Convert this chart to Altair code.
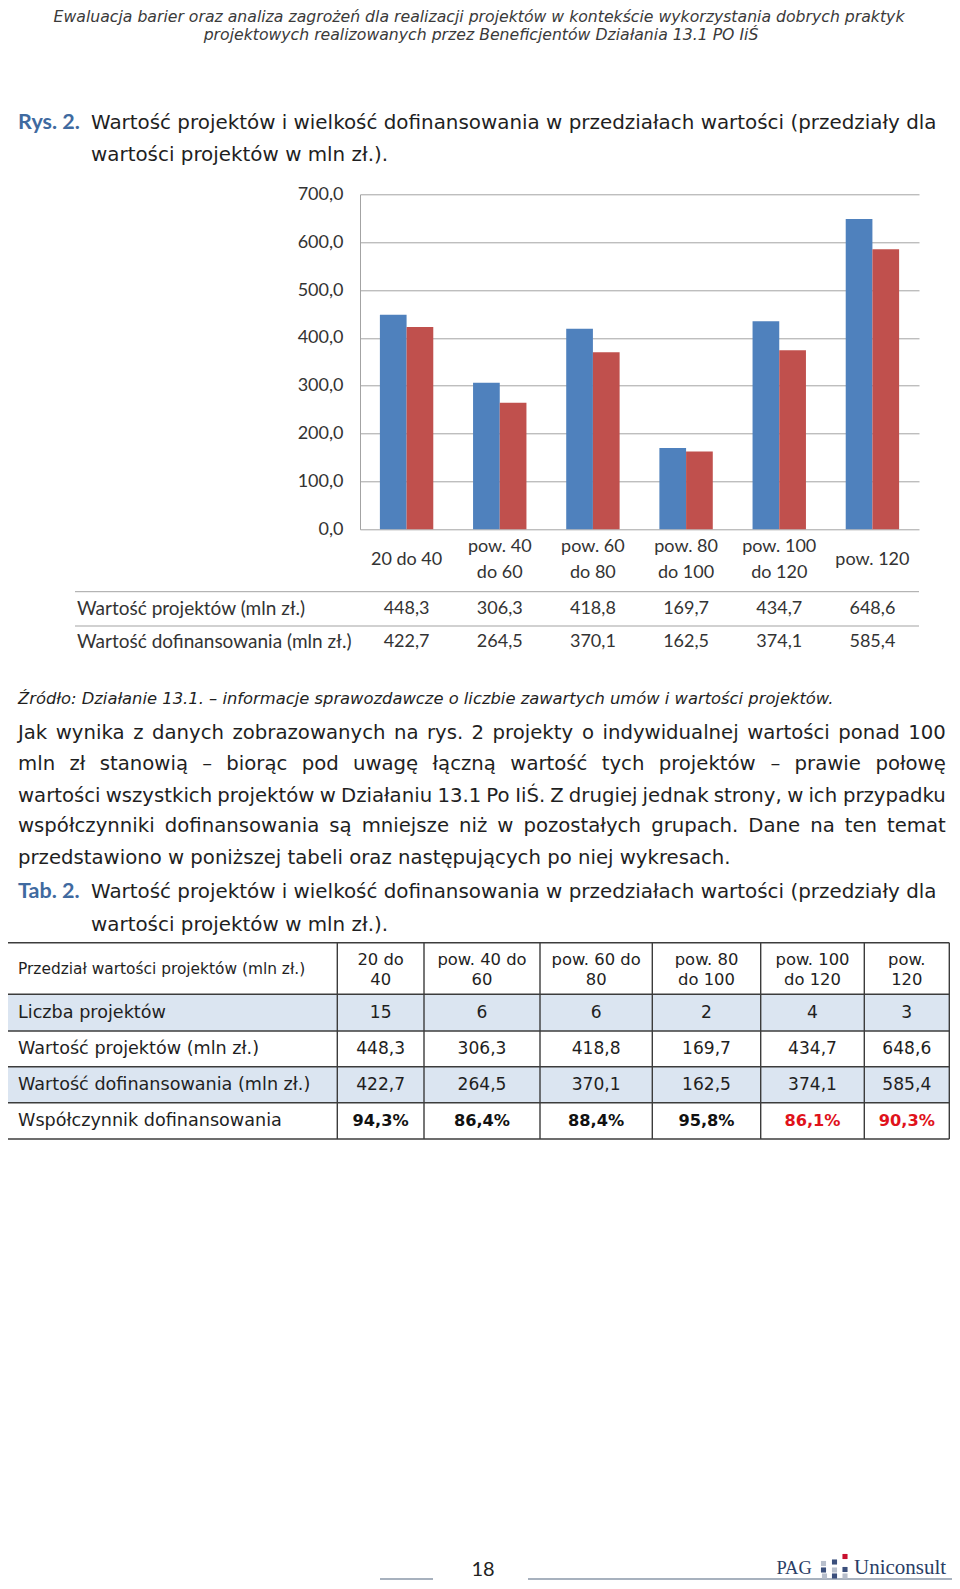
import altair as alt
import pandas as pd

# ---------------- data ----------------
categories = ["20 do 40", "pow. 40 do 60", "pow. 60 do 80", "pow. 80 do 100",
              "pow. 100 do 120", "pow. 120"]
chart_cat_labels = ["20 do 40", "pow. 40\ndo 60", "pow. 60\ndo 80", "pow. 80\ndo 100",
                    "pow. 100\ndo 120", "pow. 120"]
series = ["Wartość projektów (mln zł.)", "Wartość dofinansowania (mln zł.)"]
wartosc_projektow = [448.3, 306.3, 418.8, 169.7, 434.7, 648.6]
wartosc_dofinansowania = [422.7, 264.5, 370.1, 162.5, 374.1, 585.4]
liczba_projektow = [15, 6, 6, 2, 4, 3]
wspolczynnik = ["94,3%", "86,4%", "88,4%", "95,8%", "86,1%", "90,3%"]
wspolczynnik_red = [False, False, False, False, True, True]
table_col_headers = ["20 do\n40", "pow. 40 do\n60", "pow. 60 do\n80", "pow. 80\ndo 100",
                     "pow. 100\ndo 120", "pow.\n120"]
table_row_labels = ["Liczba projektów", "Wartość projektów (mln zł.)",
                    "Wartość dofinansowania (mln zł.)", "Współczynnik dofinansowania"]
y_ticks = [0, 100, 200, 300, 400, 500, 600, 700]

header_lines = [
    "Ewaluacja barier oraz analiza zagrożeń dla realizacji projektów w kontekście wykorzystania dobrych praktyk",
    "projektowych realizowanych przez Beneficjentów Działania 13.1 PO IiŚ",
]
fig_label = "Rys. 2."
tab_label = "Tab. 2."
caption_lines = [
    "Wartość projektów i wielkość dofinansowania w przedziałach wartości (przedziały dla",
    "wartości projektów w mln zł.).",
]
source_line = "Źródło: Działanie 13.1. – informacje sprawozdawcze o liczbie zawartych umów i wartości projektów."
paragraph_lines = [
    "Jak wynika z danych zobrazowanych na rys. 2 projekty o indywidualnej wartości ponad 100",
    "mln zł stanowią – biorąc pod uwagę łączną wartość tych projektów – prawie połowę",
    "wartości wszystkich projektów w Działaniu 13.1 Po IiŚ. Z drugiej jednak strony, w ich przypadku",
    "współczynniki dofinansowania są mniejsze niż w pozostałych grupach. Dane na ten temat",
    "przedstawiono w poniższej tabeli oraz następujących po niej wykresach.",
]
paragraph_justified = [True, True, True, True, False]
table_header_label = "Przedział wartości projektów (mln zł.)"
page_number = "18"
logo_words = ["PAG", "Uniconsult"]


def pl(v):
    return f"{v:.1f}".replace(".", ",")


# ---------------- layout (page pixels) ----------------
PLOT_L, PLOT_T = 360.0, 194.3
PLOT_W, PLOT_H = 559.0, 335.0
PAGE_W, PAGE_H = 944, 1573


def X(px):
    return px - PLOT_L


def Y(py):
    return py - PLOT_T


FONT_BODY = "DejaVu Sans"
FONT_CHART = "Lato"
BODY_SIZE = 19.7

# approximate DejaVu Sans advance widths (units per 2048 em), used only to spread
# justified words along a line
_W = {' ': 651, ',': 651, '.': 651, '–': 1024, '(': 799, ')': 799, '-': 739,
      'a': 1255, 'b': 1300, 'c': 1126, 'd': 1300, 'e': 1260, 'f': 721, 'g': 1300,
      'h': 1298, 'i': 569, 'j': 569, 'k': 1186, 'l': 569, 'm': 1995, 'n': 1298,
      'o': 1253, 'p': 1300, 'q': 1300, 'r': 842, 's': 1067, 't': 803, 'u': 1298,
      'v': 1212, 'w': 1675, 'x': 1212, 'y': 1212, 'z': 1075,
      'ą': 1255, 'ę': 1260, 'ć': 1126, 'ś': 1067, 'ó': 1253, 'ż': 1075, 'ź': 1075,
      'ń': 1298, 'ł': 600,
      'D': 1577, 'I': 604, 'J': 604, 'P': 1235, 'Z': 1403, 'Ś': 1300}


def tw(s, size):
    return sum(_W.get(ch, 1303 if ch.isdigit() else 1250) for ch in s) / 2048.0 * size


def text_layer(items, **mk):
    df = pd.DataFrame({"px": [X(a) for a, b, t in items],
                       "py": [Y(b) for a, b, t in items],
                       "t": [t for a, b, t in items]})
    return alt.Chart(df).mark_text(baseline="middle", lineBreak="\n", **mk).encode(
        x=alt.X("px:Q", scale=None, axis=None),
        y=alt.Y("py:Q", scale=None, axis=None),
        text="t:N",
    )


def rule_layer(segs, color, width):
    df = pd.DataFrame({"x1": [X(s[0]) for s in segs], "y1": [Y(s[1]) for s in segs],
                       "x2": [X(s[2]) for s in segs], "y2": [Y(s[3]) for s in segs]})
    return alt.Chart(df).mark_rule(color=color, strokeWidth=width).encode(
        x=alt.X("x1:Q", scale=None, axis=None), y=alt.Y("y1:Q", scale=None, axis=None),
        x2="x2:Q", y2="y2:Q")


# ---------------- bar chart ----------------
bar_df = pd.DataFrame({
    "cat": categories * 2,
    "series": [series[0]] * 6 + [series[1]] * 6,
    "value": wartosc_projektow + wartosc_dofinansowania,
})

GRID = "#a3a3a3"
CHART_TXT = "#333333"

bars = alt.Chart(bar_df).mark_bar().encode(
    x=alt.X("cat:N", sort=categories,
            scale=alt.Scale(paddingInner=0, paddingOuter=0),
            axis=alt.Axis(labels=False, title=None, ticks=True, tickSize=122.5,
                          tickColor=GRID, bandPosition=0, domain=True,
                          domainColor=GRID, grid=False)),
    xOffset=alt.XOffset("series:N", sort=series,
                        scale=alt.Scale(paddingInner=0, paddingOuter=0.745)),
    y=alt.Y("value:Q", scale=alt.Scale(domain=[0, 700], nice=False),
            axis=alt.Axis(values=y_ticks, title=None, ticks=False, labelPadding=17,
                          labelExpr="replace(format(datum.value, '.1f'), '.', ',')",
                          labelFont=FONT_CHART, labelFontSize=18, labelColor=CHART_TXT,
                          grid=True, gridColor=GRID, domain=True, domainColor=GRID)),
    color=alt.Color("series:N", sort=series,
                    scale=alt.Scale(domain=series, range=["#4F81BD", "#C0504D"]),
                    legend=None),
)

cat_df = pd.DataFrame({
    "cat": categories,
    "lab": chart_cat_labels,
    "two": ["\n" in s for s in chart_cat_labels],
    "v1": [pl(v) for v in wartosc_projektow],
    "v2": [pl(v) for v in wartosc_dofinansowania],
})


def cat_text(df, field, ypage, size=18):
    return alt.Chart(df).mark_text(font=FONT_CHART, fontSize=size, color=CHART_TXT,
                                   baseline="middle", lineBreak="\n", lineHeight=25.3).encode(
        x=alt.X("cat:N", sort=categories, axis=None),
        y=alt.value(Y(ypage)),
        text=f"{field}:N",
    )


cat_one = cat_text(cat_df[~cat_df["two"]], "lab", 559.6)
cat_two = cat_text(cat_df[cat_df["two"]], "lab", 547.4)
row1_layer = cat_text(cat_df, "v1", 608.5)
row2_layer = cat_text(cat_df, "v2", 641.5)

chart_table_rows = text_layer([(77, 608.5, series[0]), (77, 641.5, series[1])],
                              font=FONT_CHART, fontSize=19, color=CHART_TXT, align="left")
chart_table_lines = rule_layer([(75, 591.7, PLOT_L + PLOT_W, 591.7),
                                (75, 626.0, PLOT_L + PLOT_W, 626.0)], GRID, 1)

# ---------------- page texts ----------------
header_layer = text_layer([(479, 17.0, header_lines[0]), (481, 34.5, header_lines[1])],
                          font=FONT_BODY, fontStyle="italic", fontSize=15.7,
                          color="#3a3a3a", align="center")

label_layer = text_layer([(18, 123, fig_label), (18, 892, tab_label)],
                         font=FONT_CHART, fontWeight="bold", fontSize=21.5,
                         color="#3F6AA0", align="left")
caption_layer = text_layer([(91, 123, caption_lines[0]), (91, 155, caption_lines[1]),
                            (91, 892, caption_lines[0]), (91, 924.5, caption_lines[1])],
                           font=FONT_BODY, fontSize=19.9, color="#1f1f1f", align="left")

source_layer = text_layer([(18, 698.5, source_line)], font=FONT_BODY, fontStyle="italic",
                          fontSize=16.35, color="#1f1f1f", align="left")

# paragraph: justified lines are laid out word by word between the margins
para_y = [733.0, 764.4, 795.8, 826.2, 857.6]
PARA_L, PARA_R = 18.0, 945.8
para_left, para_right = [], []
for y, line, just in zip(para_y, paragraph_lines, paragraph_justified):
    if not just:
        para_left.append((PARA_L, y, line))
        continue
    words = line.split(" ")
    widths = [tw(w, BODY_SIZE) for w in words]
    gap = (PARA_R - PARA_L - sum(widths)) / (len(words) - 1)
    x = PARA_L
    for w, wd in zip(words[:-1], widths[:-1]):
        para_left.append((x, y, w))
        x += wd + gap
    para_right.append((PARA_R, y, words[-1]))

para_layer_l = text_layer(para_left, font=FONT_BODY, fontSize=BODY_SIZE, color="#1f1f1f",
                          align="left")
para_layer_r = text_layer(para_right, font=FONT_BODY, fontSize=BODY_SIZE, color="#1f1f1f",
                          align="right")

# ---------------- table ----------------
col_x = [6.0, 337.3, 424.0, 540.0, 652.3, 760.7, 864.3, 949.3]
row_y = [942.7, 994.3, 1031.0, 1066.7, 1102.7, 1139.0]
col_c = [(col_x[i + 1] + col_x[i + 2]) / 2 for i in range(6)]
row_c = [(row_y[i] + row_y[i + 1]) / 2 for i in range(5)]

shade_df = pd.DataFrame({"x1": [X(col_x[0])] * 2, "x2": [X(col_x[-1])] * 2,
                         "y1": [Y(row_y[1]), Y(row_y[3])], "y2": [Y(row_y[2]), Y(row_y[4])]})
shade_layer = alt.Chart(shade_df).mark_rect(color="#DBE5F1").encode(
    x=alt.X("x1:Q", scale=None, axis=None), y=alt.Y("y1:Q", scale=None, axis=None),
    x2="x2:Q", y2="y2:Q")

tab_segs = [(col_x[0], y, col_x[-1], y) for y in row_y] + \
           [(x, row_y[0], x, row_y[-1]) for x in col_x]
table_lines = rule_layer(tab_segs, "#3c3c3c", 1.4)

tab_head_layer = text_layer([(18, row_c[0], table_header_label)],
                            font=FONT_BODY, fontSize=15.4, color="#1f1f1f", align="left")
tab_colhead_layer = text_layer([(cx, 959.5, h) for cx, h in zip(col_c, table_col_headers)],
                               font=FONT_BODY, fontSize=16.4, color="#1f1f1f", align="center",
                               lineHeight=20)
tab_rowlab_layer = text_layer([(18, row_c[i + 1], table_row_labels[i]) for i in range(4)],
                              font=FONT_BODY, fontSize=17.6, color="#1f1f1f", align="left")
tab_vals = []
for i in range(6):
    tab_vals.append((col_c[i], row_c[1], str(liczba_projektow[i])))
    tab_vals.append((col_c[i], row_c[2], pl(wartosc_projektow[i])))
    tab_vals.append((col_c[i], row_c[3], pl(wartosc_dofinansowania[i])))
tab_vals_layer = text_layer(tab_vals, font=FONT_BODY, fontSize=17.1, color="#1f1f1f",
                            align="center")
tab_pct_black = text_layer([(col_c[i], row_c[4], wspolczynnik[i]) for i in range(6)
                            if not wspolczynnik_red[i]],
                           font=FONT_BODY, fontSize=16.2, fontWeight="bold", color="#111111",
                           align="center")
tab_pct_red = text_layer([(col_c[i], row_c[4], wspolczynnik[i]) for i in range(6)
                          if wspolczynnik_red[i]],
                         font=FONT_BODY, fontSize=16.2, fontWeight="bold", color="#E0121B",
                         align="center")

# ---------------- footer ----------------
footer_num = text_layer([(483, 1570, page_number)], font=FONT_CHART, fontSize=20,
                        color="#222222", align="center")
footer_lines = rule_layer([(380, 1579, 433, 1579), (528, 1579, 957, 1579)],
                          "#8a97a8", 1.5)
logo_pag = text_layer([(776.5, 1568, logo_words[0])], font="Liberation Serif",
                      fontSize=18.5, color="#2A3D66", align="left")
logo_uni = text_layer([(854, 1568, logo_words[1])], font="Liberation Serif",
                      fontSize=21, color="#2A3D66", align="left")
logo_dots = [(823.5, 1563.5, "#b8bfcc"), (834.5, 1562.0, "#3b4f7c"), (845.0, 1556.5, "#c8102e"),
             (823.5, 1570.0, "#3b4f7c"), (834.5, 1570.0, "#b8bfcc"), (845.0, 1569.5, "#3b4f7c"),
             (824.5, 1576.0, "#b8bfcc"), (834.5, 1576.0, "#3b4f7c"), (845.0, 1576.0, "#b8bfcc")]
dots_df = pd.DataFrame({"px": [X(a) for a, b, c in logo_dots], "py": [Y(b) for a, b, c in logo_dots],
                        "c": [c for a, b, c in logo_dots]})
dots_layer = alt.Chart(dots_df).mark_square(size=26, opacity=1).encode(
    x=alt.X("px:Q", scale=None, axis=None), y=alt.Y("py:Q", scale=None, axis=None),
    color=alt.Color("c:N", scale=None, legend=None))

chart = alt.layer(
    bars, cat_one, cat_two, row1_layer, row2_layer, chart_table_rows, chart_table_lines,
    header_layer, label_layer, caption_layer, source_layer, para_layer_l, para_layer_r,
    shade_layer, table_lines, tab_head_layer, tab_colhead_layer, tab_rowlab_layer,
    tab_vals_layer, tab_pct_black, tab_pct_red,
    footer_num, footer_lines, logo_pag, logo_uni, dots_layer,
).properties(
    width=PLOT_W, height=PLOT_H,
    autosize=alt.AutoSizeParams(type="none"),
    padding={"left": PLOT_L - 8, "top": PLOT_T - 8,
             "right": PAGE_W - (PLOT_L - 8) - PLOT_W,
             "bottom": PAGE_H - (PLOT_T - 8) - PLOT_H},
    background="white",
).configure_view(strokeWidth=0)

chart.save("out.html", embed_options={"renderer": "svg", "actions": False})
